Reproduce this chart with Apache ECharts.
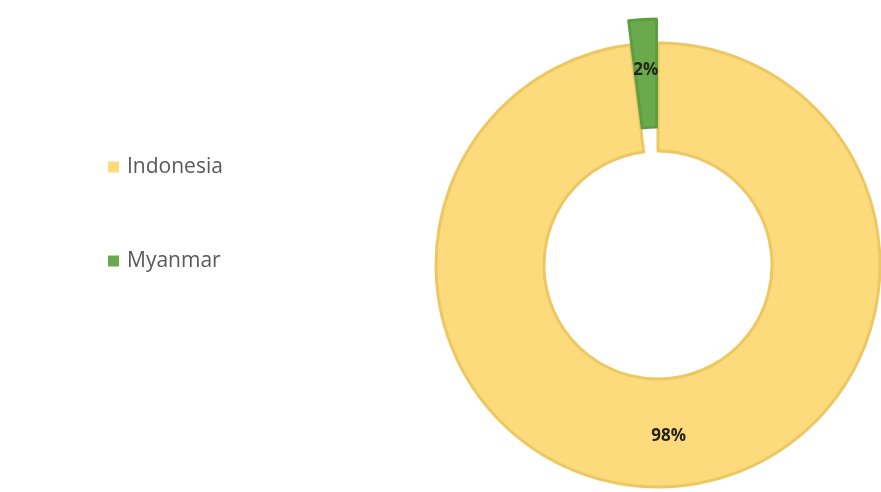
<!DOCTYPE html>
<html>
<head>
<meta charset="utf-8">
<script src="https://cdn.jsdelivr.net/npm/echarts@6/dist/echarts.min.js"></script>
<style>
  html, body { margin: 0; padding: 0; background: #ffffff; }
  #chart { width: 881px; height: 492px; }
</style>
</head>
<body>
<div id="chart"></div>
<script>
// Share of production by country
const countries = ['Indonesia', 'Myanmar'];
const shares = [98, 2];
const fills = ['#FDDA7C', '#6AAA4D'];
const edges = ['#EDC862', '#5E9E42'];
const exploded = [false, true];

const pieData = countries.map((name, i) => ({
  name: name,
  value: shares[i],
  selected: exploded[i],
  itemStyle: { color: fills[i], borderColor: edges[i], borderWidth: 3 }
}));

const chart = echarts.init(document.getElementById('chart'), null, { renderer: 'canvas' });
chart.setOption({
  animation: false,
  backgroundColor: '#ffffff',
  legend: {
    orient: 'vertical',
    left: 108,
    top: 156,
    padding: 0,
    itemWidth: 11,
    itemHeight: 11,
    itemGap: 72,
    icon: 'rect',
    data: countries.map((c, i) => ({ name: c, itemStyle: { color: fills[i], borderWidth: 0 } })),
    textStyle: {
      fontFamily: 'Open Sans', fontSize: 21, lineHeight: 22,
      color: '#595959', padding: [0, 0, 0, 3]
    },
    selectedMode: false
  },
  series: [{
    type: 'pie',
    center: [658, 265],
    radius: [114, 222],
    startAngle: 90,
    clockwise: true,
    selectedMode: 'single',
    selectedOffset: 24,
    avoidLabelOverlap: false,
    label: {
      show: true,
      position: 'inside',
      formatter: '{c}%',
      fontFamily: 'Open Sans',
      fontWeight: 'bold',
      fontSize: 17,
      color: '#262218'
    },
    labelLine: { show: false },
    emphasis: { disabled: true },
    data: pieData
  }]
});
</script>
</body>
</html>
